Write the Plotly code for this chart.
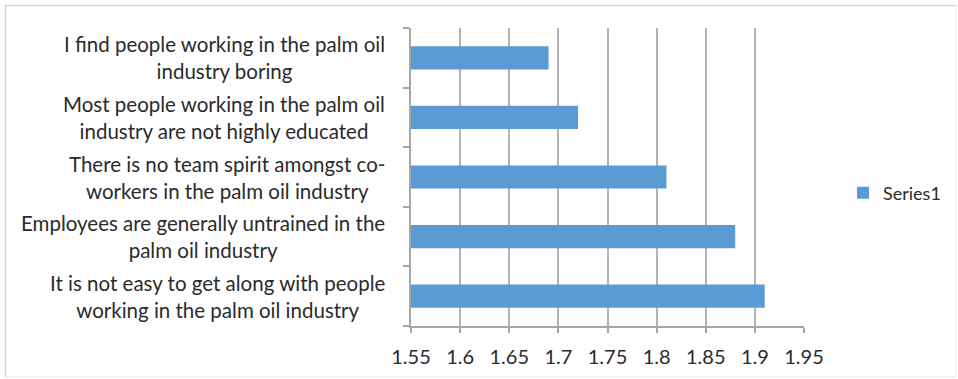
import plotly.graph_objects as go

# Statements listed bottom-to-top, as the category axis stacks them
statements = [
    "It is not easy to get along with people<br>working in the palm oil industry",
    "Employees are generally untrained in the<br>palm oil industry",
    "There is no team spirit amongst co-<br>workers in the palm oil industry",
    "Most people working in the palm oil<br>industry are not highly educated",
    "I find people working in the palm oil<br>industry boring",
]
series1 = [1.91, 1.88, 1.81, 1.72, 1.69]
x_ticks = [1.55, 1.6, 1.65, 1.7, 1.75, 1.8, 1.85, 1.9, 1.95]
x_tick_text = ["1.55", "1.6", "1.65", "1.7", "1.75", "1.8", "1.85", "1.9", "1.95"]

W, H = 958, 379
L, R, T, B = 411, 154, 28, 53
pw, ph = W - L - R, H - T - B

def px_x(p):
    return (p - L) / pw

def px_y(p):
    return (H - B - p) / ph

FONT = "Lato"
TXT = "#2b2b2b"

fig = go.Figure()
fig.add_trace(go.Bar(
    y=statements,
    x=series1,
    orientation="h",
    name="Series1",
    marker=dict(color="#5B9BD5", line=dict(width=0)),
    width=0.39,
))

# Centered multi-line category labels
annotations = []
for s in statements:
    annotations.append(dict(
        x=0, xref="paper", y=s, yref="y",
        text=s, showarrow=False,
        xanchor="right", yanchor="middle", align="center",
        xshift=-24,
        font=dict(family=FONT, size=20.5, color=TXT),
    ))

# Outer frame of the chart area
shapes = [
    dict(type="line", xref="paper", yref="paper",
         x0=px_x(5), x1=px_x(957), y0=px_y(5.5), y1=px_y(5.5),
         line=dict(color="#d4d4d4", width=1.5)),
    dict(type="line", xref="paper", yref="paper",
         x0=px_x(5.5), x1=px_x(5.5), y0=px_y(5), y1=px_y(377),
         line=dict(color="#d4d4d4", width=1.5)),
    dict(type="line", xref="paper", yref="paper",
         x0=px_x(5), x1=px_x(957), y0=px_y(377), y1=px_y(377),
         line=dict(color="#f0f0f0", width=1.5)),
    dict(type="line", xref="paper", yref="paper",
         x0=px_x(956), x1=px_x(956), y0=px_y(5), y1=px_y(377),
         line=dict(color="#f0f0f0", width=1.5)),
]

fig.update_layout(
    width=W, height=H,
    margin=dict(l=L, r=R, t=T, b=B, pad=0),
    paper_bgcolor="white", plot_bgcolor="white",
    font=dict(family=FONT, color=TXT),
    showlegend=True,
    legend=dict(
        x=px_x(843), y=px_y(193), xanchor="left", yanchor="middle",
        font=dict(family=FONT, size=18, color=TXT),
        bgcolor="rgba(0,0,0,0)", borderwidth=0,
    ),
    xaxis=dict(
        range=[1.55, 1.95],
        tickvals=x_ticks, ticktext=x_tick_text,
        showgrid=True, gridcolor="#b3b3b3", gridwidth=1.5,
        showline=True, linecolor="#a6a6a6", linewidth=1.5,
        ticks="outside", ticklen=5, tickcolor="#a6a6a6", tickwidth=1.5,
        tickfont=dict(family=FONT, size=20, color=TXT),
        ticklabelstandoff=7,
        zeroline=False, fixedrange=True,
    ),
    yaxis=dict(
        type="category",
        categoryorder="array", categoryarray=statements,
        showticklabels=False,
        showline=True, linecolor="#a6a6a6", linewidth=1.5,
        ticks="outside", ticklen=6, tickcolor="#a6a6a6", tickwidth=1.5,
        tickson="boundaries",
        showgrid=False, zeroline=False, fixedrange=True,
    ),
    annotations=annotations,
    shapes=shapes,
    bargap=0.61,
)

fig.write_html("out.html")
